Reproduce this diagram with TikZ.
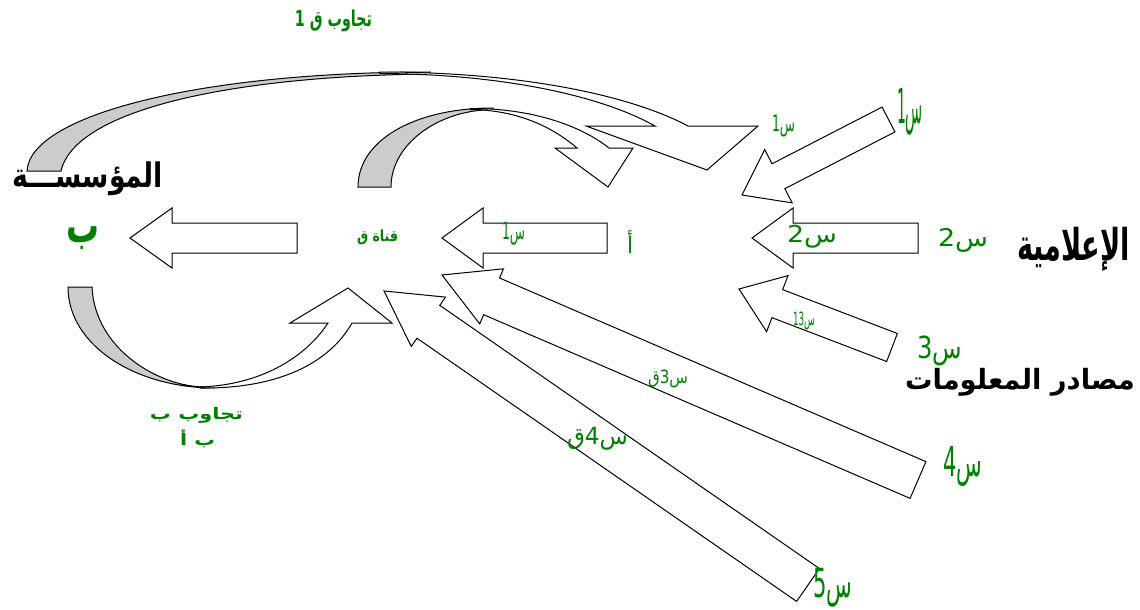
\documentclass[tikz,border=0pt]{standalone}
\usepackage{fontspec}
\usepackage{graphicx}
\usetikzlibrary{calc}
\TeXXeTstate=1
\newfontfamily\arb[Script=Arabic]{DejaVu Sans}
\definecolor{lblgreen}{RGB}{0,128,0}
\definecolor{backgray}{RGB}{204,204,204}
% Arabic text squeezed into a given ink box (width, height in pt)
\newcommand\artext[3]{\resizebox*{#1pt}{#2pt}{\arb #3}}
\newcommand\artextb[3]{\resizebox*{#1pt}{#2pt}{\arb\bfseries #3}}
% block arrow: [style] {tail} {tip} {shaft half width} {head half width} {head length}
\newcommand\blockarrow[6][]{%
  \path ($(#3)!#6!(#2)$) coordinate (ba-h);
  \draw[blockarr,#1] ($(#2)!#4!90:(#3)$) -- ($(ba-h)!#4!-90:(#2)$)
    -- ($(ba-h)!#5!-90:(#2)$) -- (#3) -- ($(ba-h)!#5!90:(#2)$)
    -- ($(ba-h)!#4!90:(#2)$) -- ($(#2)!#4!-90:(#3)$) -- cycle;
}
\begin{document}
\begin{tikzpicture}[x=1pt,y=-1pt,
  blockarr/.style={draw=black,fill=white,line width=1pt,line join=miter},
  backface/.style={draw=black,fill=backgray,line width=1pt},
  frontface/.style={draw=black,fill=white,line width=1pt,line join=miter},
  lbl/.style={inner sep=0pt,text=lblgreen},
  ttl/.style={inner sep=0pt,text=black}]
\useasboundingbox (0,0) rectangle (1140,610);

% ---- curved feedback arrows ----
% long feedback from the institution over the top
\draw[backface] (27,171) .. controls (30,115) and (200,72) .. (430,72)
  -- (430,74) .. controls (230,76) and (75,110) .. (61,171) -- cycle;
\draw[frontface] (380,72) .. controls (520,72) and (630,95) .. (688,126)
  -- (758,126) -- (707,170) -- (586,126) -- (655,126)
  .. controls (600,95) and (500,74) .. (380,73.5) -- cycle;

% short feedback above the channel
\draw[backface] (358,187) .. controls (358,140) and (415,108) .. (493,108)
  -- (493,109.5) .. controls (437,110) and (391,145) .. (391,187) -- cycle;
\draw[frontface] (470,108.5) .. controls (530,108) and (580,125) .. (609,148)
  -- (633,148) -- (608,187) -- (555,148) -- (577,148)
  .. controls (550,125) and (515,110) .. (470,109.5) -- cycle;

% feedback under the institution
\draw[backface] (68,287) .. controls (68,345) and (135,388) .. (215,388)
  -- (205,387) .. controls (160,387) and (95,350) .. (92,287) -- cycle;
\draw[frontface] (200,388) .. controls (280,389) and (330,362) .. (352,323)
  -- (392,323) -- (348,288) -- (290,323) -- (328,323)
  .. controls (305,358) and (260,385) .. (200,387) -- cycle;

% ---- straight block arrows ----
\coordinate (aB-tail) at (297,238);   \coordinate (aB-tip) at (130,238);
\coordinate (aQ-tail) at (607,238);   \coordinate (aQ-tip) at (442,238);
\coordinate (aS2-tail) at (918,238);  \coordinate (aS2-tip) at (752,238);
\coordinate (aS1-tail) at (888.5,119.5); \coordinate (aS1-tip) at (742,195);
\coordinate (aS3-tail) at (892,347.5); \coordinate (aS3-tip) at (739,289);
\coordinate (aQ3-tail) at (918,480);  \coordinate (aQ3-tip) at (442,275);
\coordinate (aQ4-tail) at (808,585);  \coordinate (aQ4-tip) at (384,291);

\blockarrow{aB-tail}{aB-tip}{15pt}{30pt}{42pt}
\blockarrow{aQ-tail}{aQ-tip}{15pt}{30pt}{41pt}
\blockarrow{aS2-tail}{aS2-tip}{15pt}{30pt}{41pt}
\blockarrow{aS1-tail}{aS1-tip}{14pt}{30pt}{41pt}
\blockarrow{aS3-tail}{aS3-tip}{15pt}{30pt}{41pt}
\blockarrow{aQ3-tail}{aQ3-tip}{20pt}{30pt}{54pt}
\blockarrow{aQ4-tail}{aQ4-tip}{20pt}{30pt}{54pt}

% ---- labels ----
\node[lbl] (fbQ) at (333.5,21) {\artextb{77}{22}{\beginR تجاوب ق 1\endR}};
\node[ttl] (inst) at (87.5,179) {\artextb{151}{34}{\beginR المؤسســـة\endR}};
\node[lbl] (recB) at (83.5,238.5) {\artextb{33}{23}{\beginR ب\endR}};
\node[lbl] (chan) at (377.5,237.5) {\artextb{41}{15}{\beginR قناة ق\endR}};
\node[lbl] (s1in) at (513.5,233.5) {\artext{23}{23}{\beginR س1\endR}};
\node[lbl] (recA) at (630,241.5) {\artext{6}{23}{\beginR أ\endR}};
\node[lbl] (s1sm) at (783.5,126) {\artext{23}{22}{\beginR س1\endR}};
\node[lbl] (s1) at (910,111.5) {\artext{26}{47}{\beginR س1\endR}};
\node[lbl] (s2in) at (812,236.5) {\artext{50}{23}{\beginR س2\endR}};
\node[lbl] (s2) at (963,240) {\artext{50}{24}{\beginR س2\endR}};
\node[ttl] (media) at (1073.5,249) {\artextb{113}{44}{\beginR الإعلامية\endR}};
\node[lbl] (s13) at (804,321) {\artext{22}{18}{\beginR س13\endR}};
\node[lbl] (s3) at (939.5,351) {\artext{45}{30}{\beginR س3\endR}};
\node[ttl] (sources) at (1020,382) {\artextb{230}{28}{\beginR مصادر المعلومات\endR}};
\node[lbl] (s3q) at (668,379) {\artext{40}{18}{\beginR س3ق\endR}};
\node[lbl] (s4q) at (597.5,438.5) {\artext{61}{23}{\beginR س4ق\endR}};
\node[lbl] (s4) at (962.5,467) {\artext{39}{40}{\beginR س4\endR}};
\node[lbl] (s5) at (832.5,587.5) {\artext{39}{39}{\beginR س5\endR}};
\node[lbl] (fbB1) at (196.5,415.5) {\artextb{93}{16}{\beginR تجاوب ب\endR}};
\node[lbl] (fbB2) at (197.5,439) {\artextb{35}{18}{\beginR ب أ\endR}};
\end{tikzpicture}
\end{document}
